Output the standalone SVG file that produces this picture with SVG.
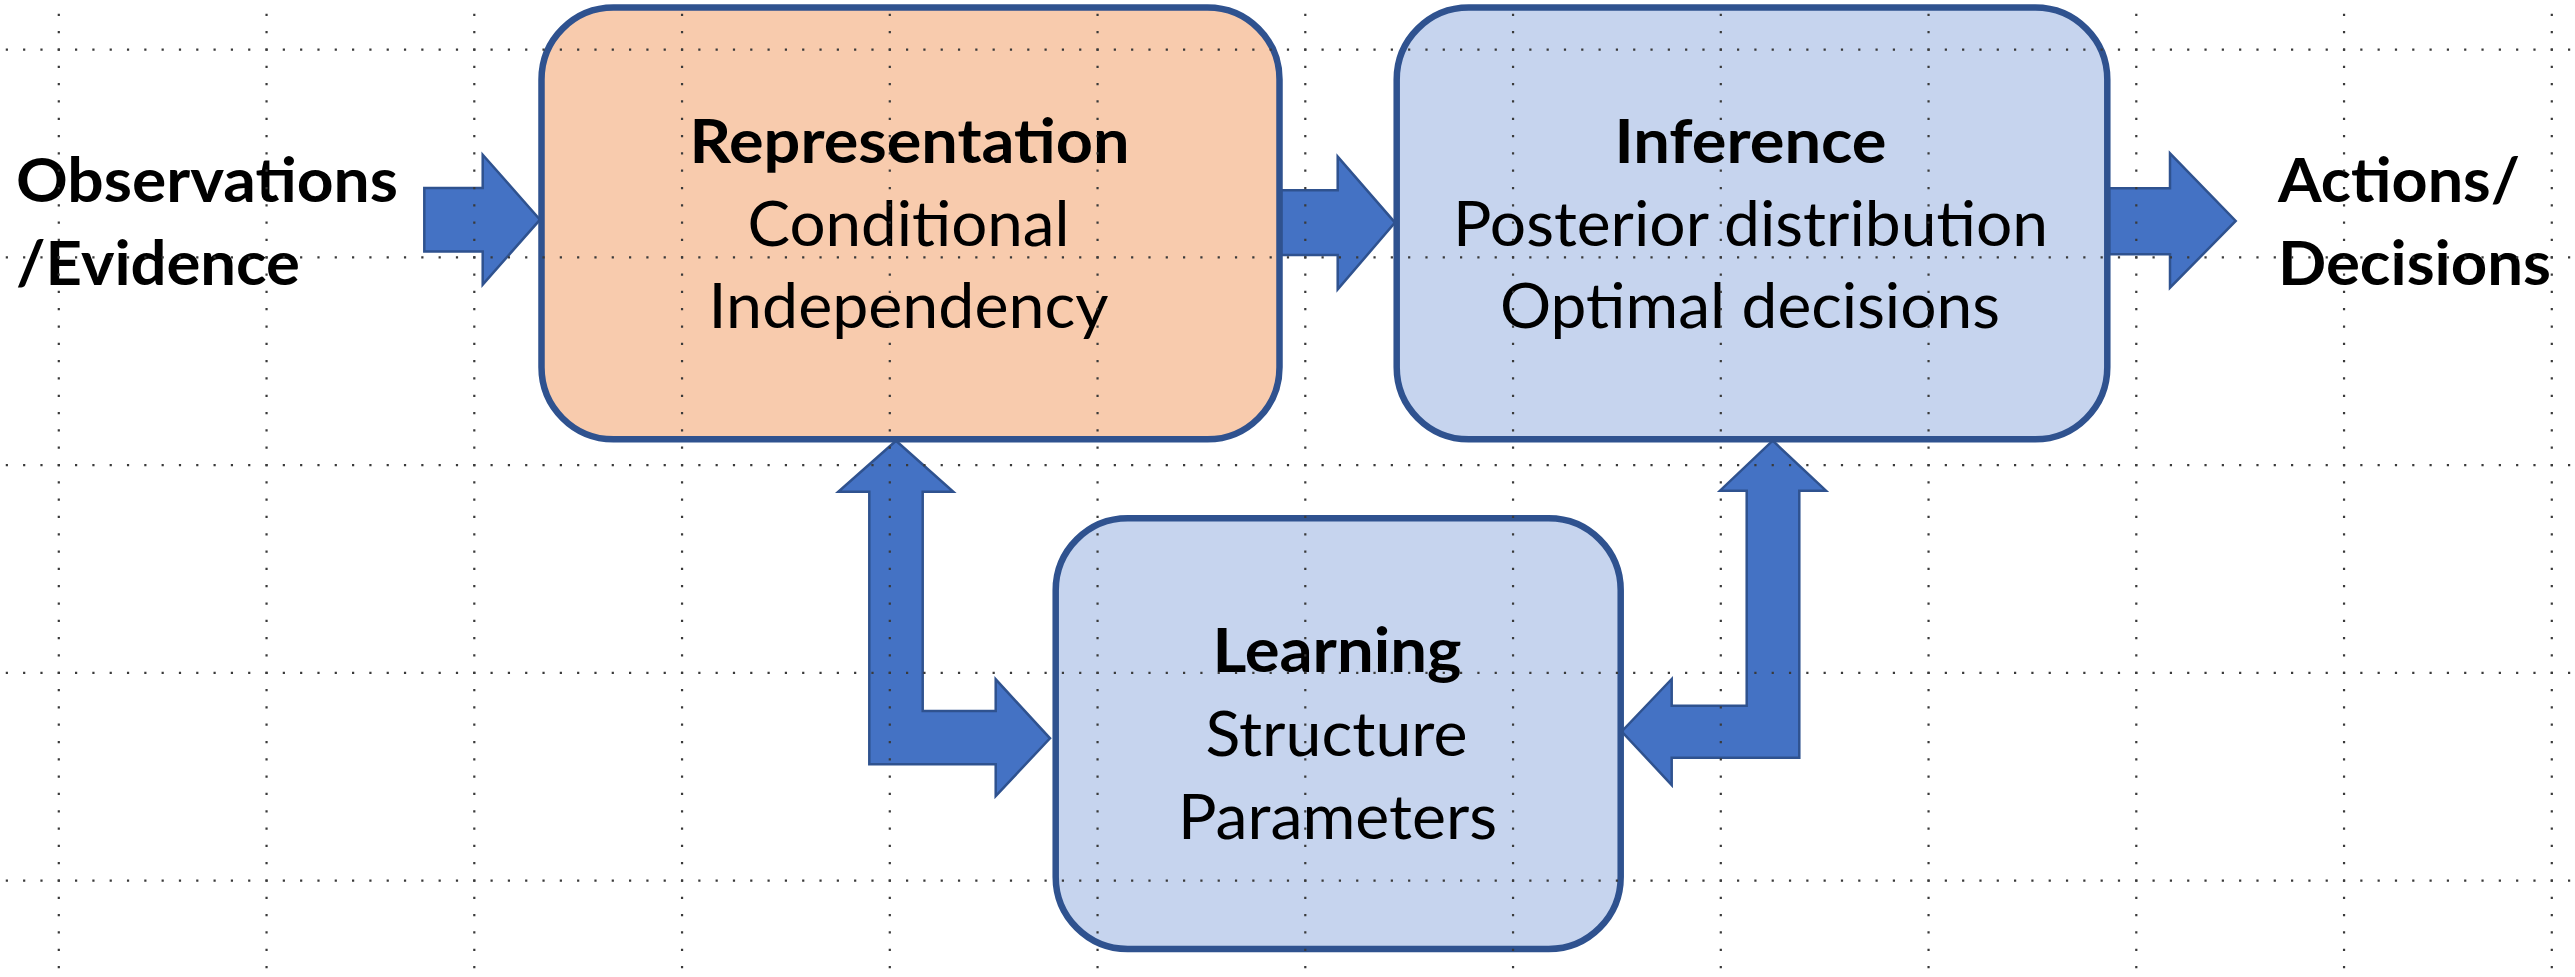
<svg xmlns="http://www.w3.org/2000/svg" width="2575" height="977" viewBox="0 0 2575 977">
<defs>
<style>
.box{stroke:#2F528F;stroke-width:6.5}
.rep{fill:#F8CBAD}
.blu{fill:#C6D4EE}
.arrow{fill:#4472C4;stroke:#2F528F;stroke-width:2.5;stroke-linejoin:miter}
.t{font-family:Lato,"Noto Sans","Liberation Sans",sans-serif;font-size:61px;fill:#000}
.b{font-weight:bold}
.grid{fill:none;stroke:#3a3a3a;stroke-width:2.2;stroke-dasharray:2.2 15.1125}
</style>
</defs>
<rect width="2575" height="977" fill="#fff"/>
<g id="connectors">
<path id="a-obs-rep" class="arrow" d="M424.3,188 H482.7 V154.7 L540,219.7 L482.7,284.7 V251.4 H424.3 Z"/>
<path id="a-rep-inf" class="arrow" d="M1281,190.3 H1337.7 V156.7 L1395,222.6 L1337.7,289.3 V255 H1281 Z"/>
<path id="a-inf-act" class="arrow" d="M2109,188.3 H2170 V153.3 L2235.7,221 L2170,287.7 V254.3 H2109 Z"/>
<path id="a-rep-learn" class="arrow" d="M896,440.7 L953.3,491.7 H922.7 V711 H995.7 V679.3 L1050,738.3 L995.7,796 V764.3 H869.3 V491.7 H838.3 Z"/>
<path id="a-inf-learn" class="arrow" d="M1772.7,440.7 L1826,490.7 H1799.3 V757.7 H1671.7 V785 L1621.7,731.5 L1671.7,679 V705.7 H1746.7 V490.7 H1720 Z"/>
</g>
<g id="node-observations">
<text class="t b" x="16" y="201.7" textLength="382" lengthAdjust="spacingAndGlyphs">Observations</text>
<text class="t b" x="16" y="285" textLength="284" lengthAdjust="spacingAndGlyphs">/Evidence</text>
</g>
<g id="node-representation">
<rect class="box rep" x="541.5" y="7.5" width="738" height="431.8" rx="72" ry="72"/>
<text class="t b" x="689.5" y="163.3" textLength="440" lengthAdjust="spacingAndGlyphs">Representation</text>
<text class="t" x="747.5" y="246" textLength="322" lengthAdjust="spacingAndGlyphs">Conditional</text>
<text class="t" x="708.5" y="328.3" textLength="400" lengthAdjust="spacingAndGlyphs">Independency</text>
</g>
<g id="node-inference">
<rect class="box blu" x="1396.7" y="7.5" width="710.6" height="431.8" rx="72" ry="72"/>
<text class="t b" x="1614.5" y="162.7" textLength="272" lengthAdjust="spacingAndGlyphs">Inference</text>
<text class="t" x="1453" y="246" textLength="595" lengthAdjust="spacingAndGlyphs">Posterior distribution</text>
<text class="t" x="1500" y="328.3" textLength="500" lengthAdjust="spacingAndGlyphs">Optimal decisions</text>
</g>
<g id="node-actions">
<text class="t b" x="2278" y="201.7" textLength="242" lengthAdjust="spacingAndGlyphs">Actions/</text>
<text class="t b" x="2278" y="285" textLength="273" lengthAdjust="spacingAndGlyphs">Decisions</text>
</g>
<g id="node-learning">
<rect class="box blu" x="1055.7" y="518.3" width="565" height="430.7" rx="72" ry="72"/>
<text class="t b" x="1212.5" y="672.4" textLength="249" lengthAdjust="spacingAndGlyphs">Learning</text>
<text class="t" x="1205.5" y="756" textLength="262" lengthAdjust="spacingAndGlyphs">Structure</text>
<text class="t" x="1178" y="838.8" textLength="319" lengthAdjust="spacingAndGlyphs">Parameters</text>
</g>
<g id="grid" class="grid">
<path d="M5.76,49.55 H2575 M5.76,257.3 H2575 M5.76,465.05 H2575 M5.76,672.8 H2575 M5.76,880.55 H2575"/>
<path d="M58.8,13.8 V977 M266.55,13.8 V977 M474.3,13.8 V977 M682.05,13.8 V977 M889.8,13.8 V977 M1097.55,13.8 V977 M1305.3,13.8 V977 M1513.05,13.8 V977 M1720.8,13.8 V977 M1928.55,13.8 V977 M2136.3,13.8 V977 M2344.05,13.8 V977 M2551.8,13.8 V977"/>
</g>
</svg>
